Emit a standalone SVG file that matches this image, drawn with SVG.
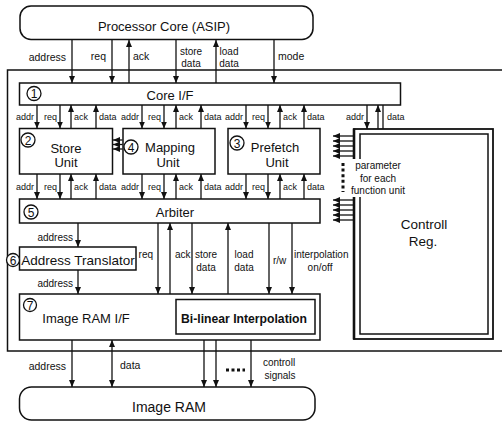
<svg xmlns="http://www.w3.org/2000/svg" width="502" height="423" viewBox="0 0 502 423">
<defs>
<marker id="ah" viewBox="0 0 7 6" refX="7" refY="3" markerWidth="7" markerHeight="6" markerUnits="userSpaceOnUse" orient="auto-start-reverse"><path d="M0,0 L7,3 L0,6 z" fill="#111"/></marker>
<style>
text{font-family:"Liberation Sans",Arial,sans-serif;fill:#111}
.box{fill:#fff;stroke:#111;stroke-width:1.5}
.big{font-size:13px}
.lbl{font-size:10.5px}
.lb2{font-size:10px}
.mid{font-size:10px}
.sm{font-size:9px}
.num{font-size:12px;text-anchor:middle}
.circ{fill:#fff;stroke:#111;stroke-width:1.3}
.c{text-anchor:middle}
.e{text-anchor:end}
.w line{stroke:#111;stroke-width:1.3}
.a{marker-end:url(#ah)}
.b{marker-start:url(#ah);marker-end:url(#ah)}
</style>
</defs>
<rect width="502" height="423" fill="#fff"/>

<g id="frame"><rect x="7.5" y="70" width="500" height="281" fill="none" stroke="#111" stroke-width="1.5"/></g>

<g id="processor-core">
<rect class="box" x="20" y="6" width="293" height="33.5" rx="11"/>
<text class="big c" x="164" y="31">Processor Core (ASIP)</text>
</g>

<g id="core-if">
<rect class="box" x="19.5" y="83" width="381" height="22"/>
<circle class="circ" cx="34" cy="93.5" r="7"/><text class="num" x="34" y="98">1</text>
<text class="big c" x="170" y="100">Core I/F</text>
</g>

<g id="store-unit">
<rect class="box" x="19.5" y="128.5" width="93" height="45.5"/>
<circle class="circ" cx="28" cy="140" r="7"/><text class="num" x="28" y="144.5">2</text>
<text class="big c" x="66" y="153">Store</text>
<text class="big c" x="66" y="167">Unit</text>
</g>

<g id="mapping-unit">
<rect class="box" x="123" y="128.5" width="92" height="45.5"/>
<circle class="circ" cx="131" cy="147" r="7"/><text class="num" x="131" y="151.5">4</text>
<text class="big c" x="170" y="152">Mapping</text>
<text class="big c" x="168" y="167">Unit</text>
</g>

<g id="prefetch-unit">
<rect class="box" x="228" y="128.5" width="92" height="45.5"/>
<circle class="circ" cx="237" cy="143" r="7"/><text class="num" x="237" y="147.5">3</text>
<text class="big c" x="275" y="152">Prefetch</text>
<text class="big c" x="277" y="167">Unit</text>
</g>

<g id="arbiter">
<rect class="box" x="19.5" y="199" width="300.5" height="24"/>
<circle class="circ" cx="31" cy="212" r="7"/><text class="num" x="31" y="216.5">5</text>
<text class="big c" x="175" y="217">Arbiter</text>
</g>

<g id="address-translator">
<rect class="box" x="19.5" y="247" width="116.5" height="23"/>
<circle class="circ" cx="13" cy="260" r="6.5"/><text class="num" x="13" y="264.5">6</text>
<text class="c" style="font-size:13.5px" x="78" y="265">Address Translator</text>
</g>

<g id="image-ram-if">
<rect class="box" x="19.5" y="294" width="300.5" height="46"/>
<circle class="circ" cx="30" cy="305" r="6.5"/><text class="num" x="30" y="309.5">7</text>
<text class="big c" x="86" y="323">Image RAM I/F</text>
</g>

<g id="bilinear-interpolation">
<rect class="box" x="176" y="299.5" width="139" height="34.5"/>
<text class="c" style="font-size:12.2px;font-weight:bold" x="244" y="323">Bi-linear Interpolation</text>
</g>

<g id="controll-reg">
<rect x="354" y="129" width="139" height="210" fill="#fff" stroke="#111" stroke-width="1.8"/>
<line x1="354" y1="128.5" x2="354" y2="339.5" stroke="#111" stroke-width="2.6"/>
<rect x="360" y="134" width="128" height="200" fill="none" stroke="#111" stroke-width="1.5"/>
<text class="c" style="font-size:13.5px" x="424" y="229">Controll</text>
<text class="c" style="font-size:13.5px" x="423" y="246">Reg.</text>
</g>

<g id="image-ram">
<rect class="box" x="19.5" y="387" width="295.5" height="33" rx="12"/>
<text class="c" style="font-size:14px" x="169" y="412">Image RAM</text>
</g>

<g id="connectors" class="w">
<line class="a" x1="72" y1="40" x2="72" y2="83"/>
<line class="a" x1="112" y1="40" x2="112" y2="83"/>
<line class="a" x1="129" y1="83" x2="129" y2="40"/>
<line class="a" x1="176" y1="40" x2="176" y2="83"/>
<line class="a" x1="216" y1="83" x2="216" y2="40"/>
<line class="a" x1="274" y1="40" x2="274" y2="83"/>
<line class="a" x1="37" y1="105" x2="37" y2="128.5"/>
<line class="a" x1="60" y1="105" x2="60" y2="128.5"/>
<line class="a" x1="71" y1="128.5" x2="71" y2="105"/>
<line class="a" x1="96" y1="128.5" x2="96" y2="105"/>
<line class="a" x1="142" y1="105" x2="142" y2="128.5"/>
<line class="a" x1="164" y1="105" x2="164" y2="128.5"/>
<line class="a" x1="176" y1="128.5" x2="176" y2="105"/>
<line class="a" x1="201" y1="128.5" x2="201" y2="105"/>
<line class="a" x1="246" y1="105" x2="246" y2="128.5"/>
<line class="a" x1="268" y1="105" x2="268" y2="128.5"/>
<line class="a" x1="280" y1="128.5" x2="280" y2="105"/>
<line class="a" x1="304" y1="128.5" x2="304" y2="105"/>
<line class="a" x1="367" y1="105" x2="367" y2="129"/>
<line class="a" x1="378" y1="129" x2="378" y2="105"/>
<line x1="383" y1="105" x2="383" y2="129"/>
<line class="a" x1="37" y1="174" x2="37" y2="199"/>
<line class="a" x1="60" y1="174" x2="60" y2="199"/>
<line class="a" x1="71" y1="199" x2="71" y2="174"/>
<line class="a" x1="96" y1="199" x2="96" y2="174"/>
<line class="a" x1="142" y1="174" x2="142" y2="199"/>
<line class="a" x1="164" y1="174" x2="164" y2="199"/>
<line class="a" x1="176" y1="199" x2="176" y2="174"/>
<line class="a" x1="201" y1="199" x2="201" y2="174"/>
<line class="a" x1="246" y1="174" x2="246" y2="199"/>
<line class="a" x1="268" y1="174" x2="268" y2="199"/>
<line class="a" x1="280" y1="199" x2="280" y2="174"/>
<line class="a" x1="304" y1="199" x2="304" y2="174"/>
<line class="a" x1="122.5" y1="140" x2="113" y2="140"/>
<line class="a" x1="122.5" y1="144.5" x2="113" y2="144.5"/>
<line class="a" x1="122.5" y1="149" x2="113" y2="149"/>
<line class="a" x1="354" y1="136" x2="333" y2="136"/>
<line class="a" x1="354" y1="141" x2="333" y2="141"/>
<line class="a" x1="354" y1="146" x2="333" y2="146"/>
<line class="a" x1="354" y1="151" x2="333" y2="151"/>
<line class="a" x1="354" y1="156" x2="333" y2="156"/>
<line x1="343" y1="163" x2="343" y2="192" style="stroke-width:3;stroke-dasharray:3 2.6"/>
<line class="a" x1="354" y1="200" x2="333" y2="200"/>
<line class="a" x1="354" y1="205" x2="333" y2="205"/>
<line class="a" x1="354" y1="210" x2="333" y2="210"/>
<line class="a" x1="354" y1="215" x2="333" y2="215"/>
<line class="a" x1="354" y1="220" x2="333" y2="220"/>
<line class="a" x1="78" y1="223" x2="78" y2="247"/>
<line class="a" x1="78" y1="270" x2="78" y2="294"/>
<line class="a" x1="158" y1="223" x2="158" y2="294"/>
<line class="a" x1="170" y1="294" x2="170" y2="223"/>
<line class="a" x1="192" y1="223" x2="192" y2="294"/>
<line class="a" x1="228" y1="294" x2="228" y2="223"/>
<line class="a" x1="269" y1="223" x2="269" y2="294"/>
<line class="a" x1="292" y1="223" x2="292" y2="294"/>
<line class="a" x1="72" y1="340" x2="72" y2="387"/>
<line class="b" x1="112" y1="340" x2="112" y2="387"/>
<line class="a" x1="204" y1="340" x2="204" y2="387"/>
<line class="a" x1="216" y1="340" x2="216" y2="387"/>
<line class="a" x1="251" y1="340" x2="251" y2="387"/>
<line x1="226" y1="370" x2="245" y2="370" style="stroke-width:3;stroke-dasharray:3 2.5"/>
</g>

<g id="connector-labels">
<text class="lbl e" x="66" y="61">address</text>
<text class="lbl e" x="106" y="60">req</text>
<text class="lbl" x="133" y="60">ack</text>
<text class="lb2 c" x="191" y="55">store</text>
<text class="lb2 c" x="191" y="67">data</text>
<text class="lb2 c" x="229" y="55">load</text>
<text class="lb2 c" x="229" y="67">data</text>
<text class="lbl" x="278" y="60">mode</text>

<text class="sm e" x="34" y="120">addr</text>
<text class="sm e" x="57" y="120">req</text>
<text class="sm" x="74" y="120">ack</text>
<text class="sm" x="99" y="120">data</text>
<text class="sm e" x="139" y="120">addr</text>
<text class="sm e" x="161" y="120">req</text>
<text class="sm" x="179" y="120">ack</text>
<text class="sm" x="204" y="120">data</text>
<text class="sm e" x="243" y="120">addr</text>
<text class="sm e" x="265" y="120">req</text>
<text class="sm" x="283" y="120">ack</text>
<text class="sm" x="307" y="120">data</text>
<text class="sm e" x="364" y="120">addr</text>
<text class="sm" x="387" y="120">data</text>

<text class="sm e" x="34" y="190">addr</text>
<text class="sm e" x="57" y="190">req</text>
<text class="sm" x="74" y="190">ack</text>
<text class="sm" x="99" y="190">data</text>
<text class="sm e" x="139" y="190">addr</text>
<text class="sm e" x="161" y="190">req</text>
<text class="sm" x="179" y="190">ack</text>
<text class="sm" x="204" y="190">data</text>
<text class="sm e" x="243" y="190">addr</text>
<text class="sm e" x="265" y="190">req</text>
<text class="sm" x="283" y="190">ack</text>
<text class="sm" x="307" y="190">data</text>

<rect x="349" y="159" width="58" height="38" fill="#fff"/>
<text class="mid c" x="378" y="169">parameter</text>
<text class="mid c" x="378" y="182">for each</text>
<text class="mid c" x="378" y="194">function unit</text>

<text class="mid e" x="73" y="241">address</text>
<text class="mid e" x="73" y="287">address</text>
<text class="mid e" x="153" y="258">req</text>
<text class="mid" x="175" y="258">ack</text>
<text class="mid c" x="206" y="258">store</text>
<text class="mid c" x="206" y="271">data</text>
<text class="mid c" x="244" y="258">load</text>
<text class="mid c" x="244" y="271">data</text>
<text class="mid" x="273" y="264">r/w</text>
<text class="mid" x="294" y="258">interpolation</text>
<text class="mid c" x="320" y="271">on/off</text>

<text class="lbl e" x="66" y="370">address</text>
<text class="lbl" x="120" y="369">data</text>
<text class="mid c" x="279" y="366">controll</text>
<text class="mid c" x="280" y="379">signals</text>
</g>
</svg>
